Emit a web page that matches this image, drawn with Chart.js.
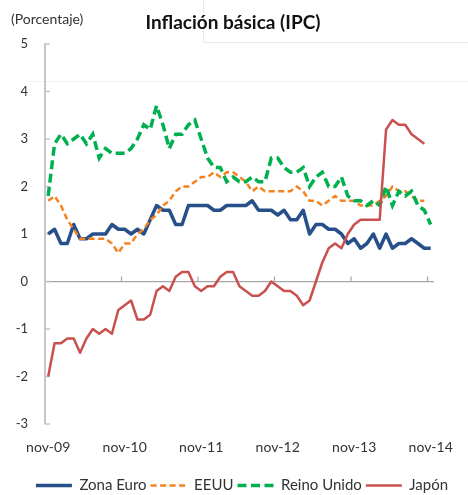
<!DOCTYPE html>
<html>
<head>
<meta charset="utf-8">
<script src="https://cdn.jsdelivr.net/npm/chart.js@4.4.1/dist/chart.umd.min.js"></script>
<style>
html,body{margin:0;padding:0;background:#ffffff;}
#wrap{width:468px;height:495px;}
</style>
</head>
<body>
<div id="wrap"><canvas id="c" width="468" height="495"></canvas></div>
<script>
// Categorías (meses)
const meses = [
  'nov-09','dic-09',
  'ene-10','feb-10','mar-10','abr-10','may-10','jun-10','jul-10','ago-10','sep-10','oct-10','nov-10','dic-10',
  'ene-11','feb-11','mar-11','abr-11','may-11','jun-11','jul-11','ago-11','sep-11','oct-11','nov-11','dic-11',
  'ene-12','feb-12','mar-12','abr-12','may-12','jun-12','jul-12','ago-12','sep-12','oct-12','nov-12','dic-12',
  'ene-13','feb-13','mar-13','abr-13','may-13','jun-13','jul-13','ago-13','sep-13','oct-13','nov-13','dic-13',
  'ene-14','feb-14','mar-14','abr-14','may-14','jun-14','jul-14','ago-14','sep-14','oct-14','nov-14'
];

// Series (porcentaje)
const zonaEuro = [
  1.0, 1.1, 0.8, 0.8, 1.2, 0.9, 0.9, 1.0, 1.0, 1.0,
  1.2, 1.1, 1.1, 1.0, 1.1, 1.0, 1.3, 1.6, 1.5, 1.5,
  1.2, 1.2, 1.6, 1.6, 1.6, 1.6, 1.5, 1.5, 1.6, 1.6,
  1.6, 1.6, 1.7, 1.5, 1.5, 1.5, 1.4, 1.5, 1.3, 1.3,
  1.5, 1.0, 1.2, 1.2, 1.1, 1.1, 1.0, 0.8, 0.9, 0.7,
  0.8, 1.0, 0.7, 1.0, 0.7, 0.8, 0.8, 0.9, 0.8, 0.7,
  0.7
];
const eeuu = [
  1.7, 1.8, 1.6, 1.3, 1.1, 0.9, 0.9, 0.9, 0.9, 0.9,
  0.8, 0.6, 0.8, 0.8, 1.0, 1.1, 1.3, 1.4, 1.6, 1.7,
  1.9, 2.0, 2.0, 2.1, 2.2, 2.2, 2.3, 2.2, 2.3, 2.3,
  2.2, 2.1, 1.9, 2.0, 1.9, 1.9, 1.9, 1.9, 1.9, 2.0,
  1.9, 1.7, 1.7, 1.6, 1.7, 1.8, 1.7, 1.7, 1.7, 1.6,
  1.6, 1.6, 1.7, 1.8, 2.0, 1.9, 1.9, 1.8, 1.7, 1.7,
  null
];
const reinoUnido = [
  1.8, 2.9, 3.1, 2.9, 3.0, 3.1, 2.9, 3.1, 2.6, 2.8,
  2.7, 2.7, 2.7, 2.8, 3.0, 3.3, 3.2, 3.7, 3.3, 2.8,
  3.1, 3.1, 3.3, 3.4, 3.0, 2.6, 2.4, 2.4, 2.1, 2.2,
  2.1, 2.1, 2.2, 2.1, 2.1, 2.6, 2.6, 2.4, 2.3, 2.3,
  2.4, 2.0, 2.2, 2.3, 2.0, 2.0, 2.2, 1.8, 1.7, 1.7,
  1.6, 1.7, 1.6, 2.0, 1.6, 1.9, 1.8, 1.9, 1.6, 1.5,
  1.2
];
const japon = [
  -2.0, -1.3, -1.3, -1.2, -1.2, -1.5, -1.2, -1.0, -1.1, -1.0,
  -1.1, -0.6, -0.5, -0.4, -0.8, -0.8, -0.7, -0.2, -0.1, -0.2,
  0.1, 0.2, 0.2, -0.1, -0.2, -0.1, -0.1, 0.1, 0.2, 0.2,
  -0.1, -0.2, -0.3, -0.3, -0.2, 0.0, -0.1, -0.2, -0.2, -0.3,
  -0.5, -0.4, 0.0, 0.4, 0.7, 0.8, 0.7, 1.0, 1.2, 1.3,
  1.3, 1.3, 1.3, 3.2, 3.4, 3.3, 3.3, 3.1, 3.0, 2.9,
  null
];

// Marcas del eje Y y textos
const yTicks = [-3, -2, -1, 0, 1, 2, 3, 4, 5];
const titulo = 'Inflación básica (IPC)';
const unidad = '(Porcentaje)';

const deco = {
  id: 'deco',
  beforeDraw(chart) {
    const ctx = chart.ctx;
    ctx.save();
    ctx.fillStyle = '#ffffff';
    ctx.fillRect(0, 0, chart.width, chart.height);
    ctx.strokeStyle = '#e9e9e9';
    ctx.lineWidth = 1;
    ctx.beginPath();
    ctx.moveTo(203.5, 0);
    ctx.lineTo(203.5, 42.5);
    ctx.lineTo(468, 42.5);
    ctx.stroke();
    ctx.strokeStyle = '#f1f1f1';
    ctx.beginPath();
    ctx.moveTo(30, 81.5);
    ctx.lineTo(468, 81.5);
    ctx.stroke();
    ctx.restore();
  },
  beforeDatasetsDraw(chart) {
    const {ctx, chartArea, scales} = chart;
    const x = scales.x, y = scales.y;
    ctx.save();
    ctx.strokeStyle = '#c6c6c6';
    ctx.lineWidth = 1.5;
    yTicks.forEach(v => {
      const py = y.getPixelForValue(v);
      ctx.beginPath();
      ctx.moveTo(chartArea.left, py);
      ctx.lineTo(chartArea.left + 5, py);
      ctx.stroke();
    });
    ctx.strokeStyle = '#a6a6a6';
    ctx.lineWidth = 1.2;
    const y0 = y.getPixelForValue(0);
    meses.forEach((m, i) => {
      if (i > 0 && m.startsWith('nov')) {
        const px = (x.getPixelForValue(i) + x.getPixelForValue(i - 1)) / 2;
        ctx.beginPath();
        ctx.moveTo(px, y0);
        ctx.lineTo(px, y0 - 5);
        ctx.stroke();
      }
    });
    ctx.restore();
  },
  afterDraw(chart) {
    const ctx = chart.ctx;
    ctx.save();
    ctx.fillStyle = '#111111';
    ctx.font = 'bold 19px Lato';
    ctx.textAlign = 'center';
    ctx.textBaseline = 'middle';
    ctx.fillText(titulo, 233, 23);
    ctx.fillStyle = '#333333';
    ctx.font = '14px Lato';
    ctx.textAlign = 'left';
    ctx.fillText(unidad, 11, 19);
    ctx.restore();
  }
};

new Chart(document.getElementById('c'), {
  type: 'line',
  data: {
    labels: meses,
    datasets: [
      { label: 'Zona Euro', data: zonaEuro, borderColor: '#27508b', backgroundColor: '#27508b',
        borderWidth: 3.5, pointRadius: 0, tension: 0, fill: false, order: 3, borderJoinStyle: 'round' },
      { label: 'EEUU', data: eeuu, borderColor: '#f58220', backgroundColor: '#f58220',
        borderWidth: 2.5, borderDash: [6, 3.5], pointRadius: 0, tension: 0, fill: false, order: 2 },
      { label: 'Reino Unido', data: reinoUnido, borderColor: '#00b050', backgroundColor: '#00b050',
        borderWidth: 3.5, borderDash: [9, 4.5], pointRadius: 0, tension: 0, fill: false, order: 1 },
      { label: 'Japón', data: japon, borderColor: '#c9504d', backgroundColor: '#c9504d',
        borderWidth: 2.5, pointRadius: 0, tension: 0, fill: false, order: 0, borderJoinStyle: 'round' }
    ]
  },
  options: {
    responsive: false,
    animation: false,
    devicePixelRatio: 1,
    layout: { padding: { left: 16, top: 44, right: 0, bottom: 0 } },
    plugins: {
      title: { display: false },
      tooltip: { enabled: false },
      legend: {
        position: 'bottom',
        align: 'center',
        maxHeight: 21,
        labels: {
          usePointStyle: true,
          pointStyle: 'line',
          pointStyleWidth: 36,
          font: { family: 'Lato', size: 15 },
          color: '#333333',
          padding: 4,
          sort: (a, b) => a.datasetIndex - b.datasetIndex,
          generateLabels: (chart) => {
            const items = Chart.defaults.plugins.legend.labels.generateLabels(chart);
            items.forEach(it => {
              const ds = chart.data.datasets[it.datasetIndex];
              it.lineDash = ds.borderDash || [];
              it.lineWidth = ds.borderWidth;
              it.strokeStyle = ds.borderColor;
              it.fillStyle = ds.borderColor;
              it.pointStyle = 'line';
            });
            return items;
          }
        }
      }
    },
    scales: {
      x: {
        type: 'category',
        offset: true,
        grid: { display: false, drawTicks: false },
        border: { display: false },
        ticks: {
          autoSkip: false, maxRotation: 0, minRotation: 0, padding: 15,
          color: '#333333', font: { family: 'Lato', size: 14 },
          callback: function (v, i) { const l = meses[i]; return l.startsWith('nov') ? l : ''; }
        },
        afterFit: s => { s.height = 50; }
      },
      y: {
        min: -3, max: 5,
        ticks: { stepSize: 1, padding: 17, color: '#333333', font: { family: 'Lato', size: 13 } },
        grid: {
          drawTicks: false,
          color: c => (c.tick && c.tick.value === 0) ? '#a6a6a6' : 'rgba(0,0,0,0)',
          lineWidth: 1.2
        },
        border: { display: true, color: '#c6c6c6', width: 2 },
        afterFit: s => { s.width = 29; }
      },
      yR: {
        position: 'right',
        display: true,
        grid: { display: false, drawTicks: false },
        border: { display: false },
        ticks: { display: false },
        afterFit: s => { s.width = 23.4; }
      }
    }
  },
  plugins: [deco]
});
</script>
</body>
</html>
